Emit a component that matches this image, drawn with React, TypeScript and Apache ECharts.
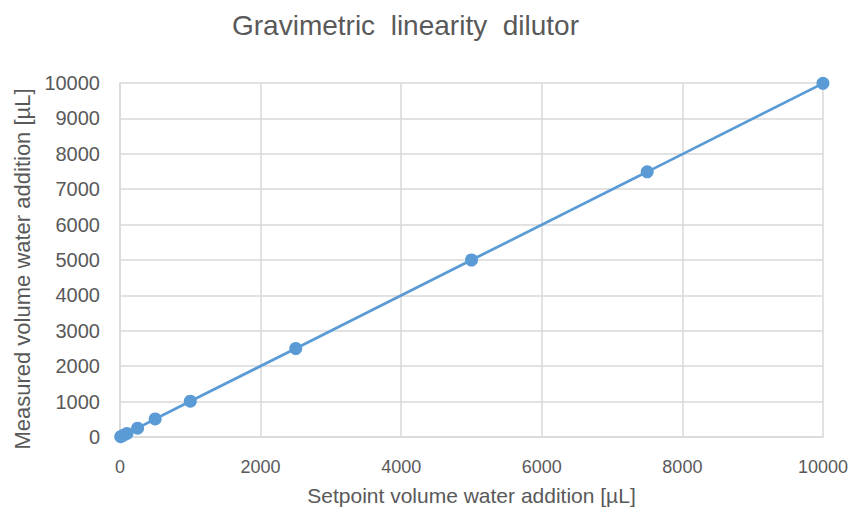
import React, { useEffect, useRef } from "react";
import * as echarts from "echarts";

const setpoints = [10, 50, 100, 250, 500, 1000, 2500, 5000, 7500, 10000];
const measured = [10, 50, 100, 250, 510, 1010, 2500, 5000, 7490, 9990];
const titleText = "Gravimetric  linearity  dilutor";
const xName = "Setpoint volume water addition [µL]";
const yName = "Measured volume water addition [µL]";

export default function App() {
  const ref = useRef<HTMLDivElement>(null);
  useEffect(() => {
    const chart = echarts.init(ref.current!, null, { renderer: "svg" });
    const font = "'Liberation Sans', Arial, sans-serif";
    chart.setOption({
      animation: false,
      backgroundColor: "#ffffff",
      title: {
        text: titleText,
        left: 227,
        top: 6,
        textStyle: { fontFamily: font, fontSize: 28, fontWeight: "normal", color: "#595959" },
      },
      grid: { left: 120, right: 28, top: 83, bottom: 80 },
      xAxis: {
        type: "value",
        min: 0,
        max: 10000,
        interval: 2000,
        name: xName,
        nameLocation: "middle",
        nameGap: 48,
        nameTextStyle: { fontFamily: font, fontSize: 21, color: "#595959" },
        axisLine: { show: true, lineStyle: { color: "#d9d9d9", width: 1.5 } },
        axisTick: { show: false },
        axisLabel: { fontFamily: font, fontSize: 18, color: "#595959", margin: 21, formatter: (v: number) => String(v) },
        splitLine: { show: true, lineStyle: { color: "#d9d9d9", width: 1.5 } },
      },
      yAxis: {
        type: "value",
        min: 0,
        max: 10000,
        interval: 1000,
        name: yName,
        nameLocation: "middle",
        nameGap: 86,
        nameTextStyle: { fontFamily: font, fontSize: 22, color: "#595959", padding: [0, 18, 0, 0] },
        axisLine: { show: true, lineStyle: { color: "#d9d9d9", width: 1.5 } },
        axisTick: { show: false },
        axisLabel: { fontFamily: font, fontSize: 20, color: "#595959", margin: 20, formatter: (v: number) => String(v) },
        splitLine: { show: true, lineStyle: { color: "#d9d9d9", width: 1.5 } },
      },
      series: [
        {
          type: "line",
          data: setpoints.map((x, i) => [x, measured[i]]),
          symbol: "circle",
          symbolSize: 13,
          lineStyle: { color: "#5b9bd5", width: 2.75 },
          itemStyle: { color: "#5b9bd5" },
        },
      ],
    });
    return () => chart.dispose();
  }, []);
  return <div ref={ref} style={{ position: "fixed", left: 0, top: 0, width: 851, height: 517 }} />;
}
